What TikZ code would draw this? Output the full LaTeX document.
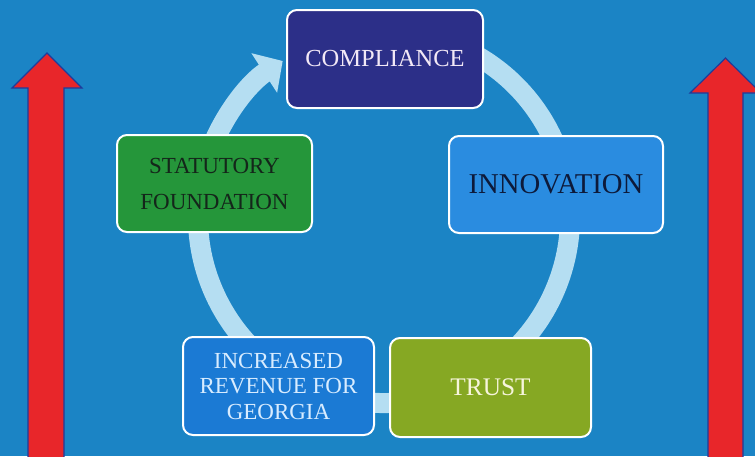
\documentclass[tikz,border=0pt]{standalone}
\usepackage{fontspec}
\setmainfont{Liberation Serif}
\usetikzlibrary{arrows.meta}
\definecolor{bg}{HTML}{1B84C5}
\definecolor{ringc}{HTML}{B5DEF2}
\definecolor{compc}{HTML}{2C2F88}
\definecolor{compt}{HTML}{F2E8F6}
\definecolor{statc}{HTML}{25963A}
\definecolor{statt}{HTML}{14261A}
\definecolor{innoc}{HTML}{2A8CE0}
\definecolor{innot}{HTML}{0D1A3A}
\definecolor{revc}{HTML}{1B7AD4}
\definecolor{revt}{HTML}{D8ECFF}
\definecolor{trustc}{HTML}{86A823}
\definecolor{trustt}{HTML}{F7F5DC}
\definecolor{redc}{HTML}{E8262A}
\definecolor{redo}{HTML}{1E3C9C}
\begin{document}
\begin{tikzpicture}[x=1pt,y=-1pt,
  box/.style={draw=white, line width=2pt, rounded corners=10pt, align=center, inner sep=0pt},
  ring/.style={draw=ringc, line width=20pt, -{Triangle[width=46pt,length=22pt]}},
  redarrow/.style={fill=redc, draw=redo, line width=1.2pt, line join=miter}]
\useasboundingbox (0,0) rectangle (755,456);
\clip (0,0) rectangle (755,456);
\fill[bg] (0,0) rectangle (755,456);

% red arrows
\path[redarrow] (28,460) -- (28,88) -- (12,88) -- (47,53) -- (82,88) -- (64,88) -- (64,460) -- cycle;
\path[redarrow] (708,460) -- (708,93) -- (690,93) -- (725.5,58) -- (761,93) -- (743,93) -- (743,460) -- cycle;

% cycle ring
\coordinate (ctr) at (384,217);
\draw[ring] (ctr) ++(290:186) arc[start angle=290, end angle=597, radius=186];

% boxes
\node[box, fill=compc, text=compt, minimum width=196pt, minimum height=98pt,
  font=\fontsize{24.5}{28}\selectfont] (comp) at (385,59) {COMPLIANCE};
\node[box, fill=statc, text=statt, minimum width=195pt, minimum height=97pt,
  font=\fontsize{23}{36}\selectfont] (stat) at (214.5,183.5) {STATUTORY\\FOUNDATION};
\node[box, fill=innoc, text=innot, minimum width=214pt, minimum height=97pt,
  font=\fontsize{28.7}{32}\selectfont] (inno) at (556,184.5) {INNOVATION};
\node[box, fill=revc, text=revt, minimum width=191pt, minimum height=98pt,
  font=\fontsize{23}{25.5}\selectfont] (rev) at (278.5,386) {INCREASED\\REVENUE FOR\\GEORGIA};
\node[box, fill=trustc, text=trustt, minimum width=201pt, minimum height=99pt,
  font=\fontsize{25.3}{30}\selectfont] (trust) at (490.5,387.5) {TRUST};
\end{tikzpicture}
\end{document}
